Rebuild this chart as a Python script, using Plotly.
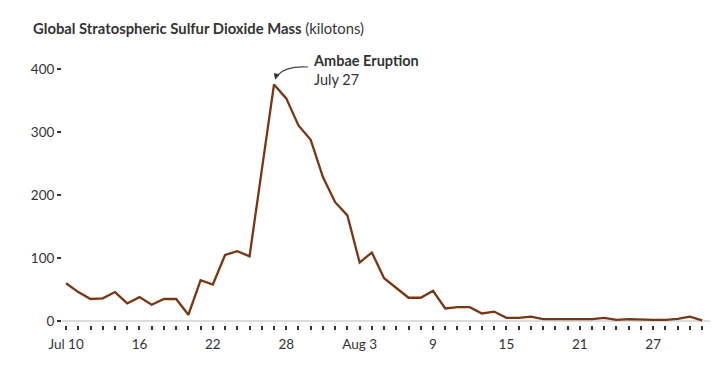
import pandas as pd
import plotly.graph_objects as go

# ---- data ----
start_date = "2018-07-10"
so2_kilotons = [
    60, 46, 35, 36, 46, 28, 38, 26, 35, 35,      # Jul 10-19
    10, 65, 58, 105, 111, 103, 240, 376, 354, 311,  # Jul 20-29
    288, 229,                                     # Jul 30-31
    189, 168, 93, 109, 68, 52, 37, 37, 48, 20,    # Aug 1-10
    22, 22, 12, 15, 5, 5, 7, 3, 3, 3,             # Aug 11-20
    3, 3, 5, 2, 3, 2, 2, 2, 3.5, 7,               # Aug 21-30
    1,                                            # Aug 31
]
dates = pd.date_range(start_date, periods=len(so2_kilotons), freq="D")
x_tick_labels = ["Jul 10", "16", "22", "28", "Aug 3", "9", "15", "21", "27"]
label_every = 6
y_tick_values = [0, 100, 200, 300, 400]
title_bold = "Global Stratospheric Sulfur Dioxide Mass"
title_unit = "(kilotons)"
event_name = "Ambae Eruption"
event_label = "July 27"

# ---- derived ----
tickvals = list(dates)
ticktext = []
for i in range(len(dates)):
    if i % label_every == 0 and i // label_every < len(x_tick_labels):
        ticktext.append(x_tick_labels[i // label_every])
    else:
        ticktext.append("")

peak_idx = max(range(len(so2_kilotons)), key=lambda i: so2_kilotons[i])
peak_x = dates[peak_idx]
peak_y = so2_kilotons[peak_idx]

TXT = "#333333"
LINE = "#7a3612"
FONT = "Lato"

fig = go.Figure()
fig.add_trace(go.Scatter(
    x=dates, y=so2_kilotons, mode="lines",
    line=dict(color=LINE, width=2.3),
    hoverinfo="x+y", showlegend=False,
))

x_lo = dates[0] - pd.Timedelta(hours=8)
x_hi = dates[-1] + pd.Timedelta(hours=15.5)

fig.update_layout(
    width=720, height=380,
    margin=dict(l=62, r=10, t=60, b=55),
    paper_bgcolor="white", plot_bgcolor="white",
    font=dict(family=FONT, size=13, color=TXT),
    title=dict(
        text=f"<b>{title_bold}</b> {title_unit}",
        xref="container", yref="container",
        x=33 / 720, xanchor="left",
        y=1 - 29 / 380, yanchor="middle",
        font=dict(family=FONT, size=14.8, color=TXT),
    ),
    xaxis=dict(
        type="date", range=[x_lo, x_hi],
        tickmode="array", tickvals=tickvals, ticktext=ticktext,
        ticks="outside", ticklen=4, tickwidth=1.5, tickcolor="#333333",
        ticklabelstandoff=3,
        showgrid=False, zeroline=False, showline=False,
        tickfont=dict(family=FONT, size=13.5, color=TXT),
    ),
    yaxis=dict(
        range=[-6.3, 415],
        tickmode="array", tickvals=y_tick_values,
        ticks="outside", ticklen=4, tickwidth=1.5, tickcolor="#333333",
        showgrid=False, zeroline=True, zerolinecolor="#dcdcdc", zerolinewidth=1.5,
        showline=False,
        tickfont=dict(family=FONT, size=13.5, color=TXT),
    ),
)

# curved pointer from label to peak (pixel offsets relative to the peak point)
fig.add_shape(
    type="path", xref="x", yref="y",
    xsizemode="pixel", ysizemode="pixel",
    xanchor=peak_x, yanchor=peak_y,
    path="M 34 17.5 Q 12 19 3 9",
    line=dict(color="#444444", width=1.1),
)
# arrow head
fig.add_annotation(
    x=peak_x, y=peak_y, xref="x", yref="y",
    text="", showarrow=True, arrowhead=2, arrowsize=1.1, arrowwidth=1.1,
    arrowcolor="#333333", ax=2, ay=-8, standoff=5,
)
# label
fig.add_annotation(
    x=peak_x, y=peak_y, xref="x", yref="y",
    text=f"<b>{event_name}</b><br>{event_label}",
    showarrow=False, xanchor="left", yanchor="middle", align="left",
    xshift=37, yshift=15,
    font=dict(family=FONT, size=14.5, color=TXT),
)

fig.write_html("out.html", config={"displayModeBar": False},
               post_script="document.body.style.margin='0';")
